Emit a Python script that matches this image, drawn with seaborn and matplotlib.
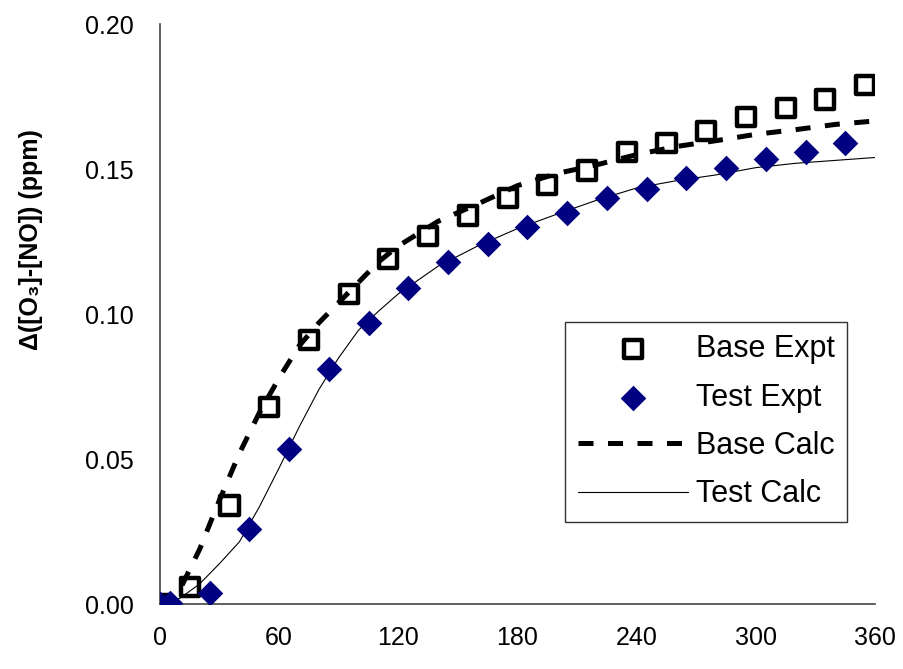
import numpy as np
import pandas as pd
import matplotlib
matplotlib.use("Agg")
import matplotlib.pyplot as plt
import seaborn as sns

# Experimental points (minutes, ppm)
base_expt_t = [0, 15, 35, 55, 75, 95, 115, 135, 155, 175, 195, 215, 235, 255, 275, 295, 315, 335, 355]
base_expt_y = [0.0, 0.006, 0.034, 0.068, 0.091, 0.107, 0.119, 0.127, 0.134, 0.140, 0.1445, 0.1495,
               0.156, 0.159, 0.163, 0.168, 0.171, 0.174, 0.179]

test_expt_t = [0, 5, 25, 45, 65, 85, 105, 125, 145, 165, 185, 205, 225, 245, 265, 285, 305, 325, 345]
test_expt_y = [0.0, 0.0005, 0.004, 0.026, 0.0535, 0.081, 0.097, 0.109, 0.118, 0.124, 0.130, 0.135,
               0.140, 0.143, 0.147, 0.1505, 0.1535, 0.156, 0.159]

# Model curves
calc_t = [0, 10, 20, 30, 40, 50, 60, 70, 80, 90, 100, 110, 120, 140, 160, 180, 200, 220, 240,
          260, 280, 300, 320, 340, 360]
base_calc_y = [0.0, 0.005, 0.019, 0.036, 0.052, 0.066, 0.078, 0.089, 0.097, 0.104, 0.111, 0.118,
               0.1235, 0.132, 0.138, 0.1443, 0.1485, 0.1515, 0.155, 0.1578, 0.1598, 0.162, 0.1636,
               0.1654, 0.1666]
test_calc_y = [0.0, 0.002, 0.007, 0.014, 0.0215, 0.0335, 0.047, 0.061, 0.074, 0.085, 0.0945, 0.101,
               0.107, 0.1165, 0.1235, 0.1295, 0.1345, 0.1393, 0.1435, 0.146, 0.148, 0.1505, 0.152,
               0.153, 0.154]

sns.set_style("white")
plt.rcParams["font.family"] = ["Liberation Sans", "DejaVu Sans"]
plt.rcParams["text.color"] = "black"
plt.rcParams["axes.labelcolor"] = "black"
plt.rcParams["xtick.color"] = "black"
plt.rcParams["ytick.color"] = "black"

fig = plt.figure(figsize=(9.04, 6.69), dpi=100)
ax = fig.add_axes([0.177, 0.097, 0.791, 0.867])

base_expt = pd.DataFrame({"t": base_expt_t, "y": base_expt_y})
test_expt = pd.DataFrame({"t": test_expt_t, "y": test_expt_y})
calc = pd.DataFrame({"t": calc_t, "base": base_calc_y, "test": test_calc_y})

sns.lineplot(data=calc, x="t", y="base", ax=ax, color="black", linewidth=3.6,
             label="Base Calc", zorder=2)
ax.lines[-1].set_dashes((3.0, 2.9))
sns.lineplot(data=calc, x="t", y="test", ax=ax, color="black", linewidth=0.8,
             label="Test Calc", zorder=2)
sns.scatterplot(data=base_expt, x="t", y="y", ax=ax, marker="s", s=170,
                facecolor="none", edgecolor="black", linewidth=3.2, label="Base Expt", zorder=3)
sns.scatterplot(data=test_expt, x="t", y="y", ax=ax, marker="D", s=170,
                color="#000080", edgecolor="#000080", linewidth=0, label="Test Expt", zorder=4)

ax.set_xlim(0, 360)
ax.set_ylim(0, 0.20)
ax.set_xticks(np.arange(0, 361, 60))
ax.set_yticks(np.arange(0, 0.201, 0.05))
ax.set_yticklabels([f"{v:.2f}" for v in np.arange(0, 0.201, 0.05)])
ax.tick_params(direction="inout", length=14, width=1, labelsize=18, color="black")
ax.tick_params(axis="y", pad=12)
ax.tick_params(axis="x", pad=9)

for side in ["top", "right"]:
    ax.spines[side].set_visible(False)
for side in ["left", "bottom"]:
    ax.spines[side].set_color("#444444")
    ax.spines[side].set_linewidth(1.2)

ax.set_xlabel("")
ax.set_ylabel("Δ([O₃]-[NO]) (ppm)", fontsize=18, fontweight="bold")
ax.yaxis.set_label_coords(-0.163, 0.628)

handles, labels = ax.get_legend_handles_labels()
order = [labels.index(k) for k in ["Base Expt", "Test Expt", "Base Calc", "Test Calc"]]
leg = ax.legend([handles[i] for i in order], [labels[i] for i in order],
                loc="upper left", bbox_to_anchor=(0.567, 0.486), fontsize=22,
                frameon=True, fancybox=False, framealpha=1, edgecolor="#333333",
                handlelength=3.6, borderpad=0.4, labelspacing=0.6, handletextpad=0.28,
                borderaxespad=0)
leg.get_frame().set_linewidth(1)

fig.savefig("out.png", dpi=100)
